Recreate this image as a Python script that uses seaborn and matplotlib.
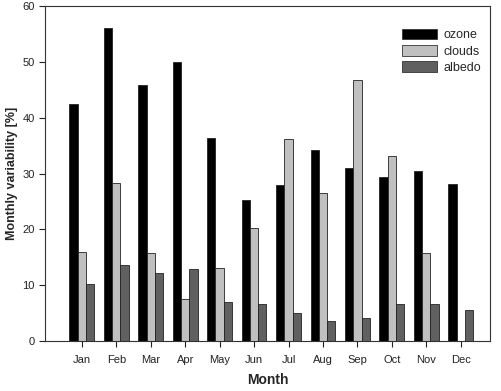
import numpy as np
import pandas as pd
import matplotlib
matplotlib.use('Agg')
import matplotlib.pyplot as plt
import seaborn as sns

months = ['Jan','Feb','Mar','Apr','May','Jun','Jul','Aug','Sep','Oct','Nov','Dec']
ozone  = [42.5, 56.0, 45.8, 50.0, 36.3, 25.3, 28.0, 34.2, 30.9, 29.3, 30.4, 28.1]
clouds = [15.9, 28.3, 15.8, 7.5, 13.0, 20.2, 36.2, 26.5, 46.8, 33.1, 15.7, np.nan]
albedo = [10.2, 13.6, 12.2, 12.9, 6.9, 6.6, 5.1, 3.5, 4.2, 6.7, 6.7, 5.6]
series = ['ozone', 'clouds', 'albedo']
palette = {'ozone': '#000000', 'clouds': '#c0c0c0', 'albedo': '#606060'}

df = pd.DataFrame({'Month': months, 'ozone': ozone, 'clouds': clouds, 'albedo': albedo})
long = df.melt(id_vars='Month', value_vars=series, var_name='factor', value_name='value')

sns.set_style('white')
plt.rcParams['font.family'] = ['Liberation Sans', 'DejaVu Sans']

fig = plt.figure(figsize=(5.01, 3.91), dpi=100)
ax = fig.add_axes([45/501, 1 - 341/391, 445/501, 335/391])
sns.barplot(data=long, x='Month', y='value', hue='factor', order=months,
            hue_order=series, palette=palette, width=0.72, dodge=True,
            edgecolor='#222222', linewidth=0.6, saturation=1, ax=ax)

ax.set_xlim(-1.07, 11.85)
ax.set_ylim(0, 60)
ax.set_yticks(range(0, 61, 10))
ax.tick_params(axis='both', direction='out', length=4, width=0.8, labelsize=8,
               colors='#222222', bottom=True, left=True)
ax.tick_params(axis='x', pad=6)
for s in ax.spines.values():
    s.set_visible(True)
    s.set_color('#333333')
    s.set_linewidth(0.8)
ax.set_xlabel('Month', fontsize=10, fontweight='bold', labelpad=6)
ax.set_ylabel('Monthly variability [%]', fontsize=9, fontweight='bold', labelpad=3)

leg = ax.legend(loc='upper right', bbox_to_anchor=(1.005, 0.965), frameon=False,
                fontsize=9, handlelength=2.8, handleheight=0.9, labelspacing=0.3,
                handletextpad=0.5)
for h in leg.legend_handles:
    h.set_edgecolor('#333333')
    h.set_linewidth(0.6)

fig.savefig('out.png', dpi=100)
